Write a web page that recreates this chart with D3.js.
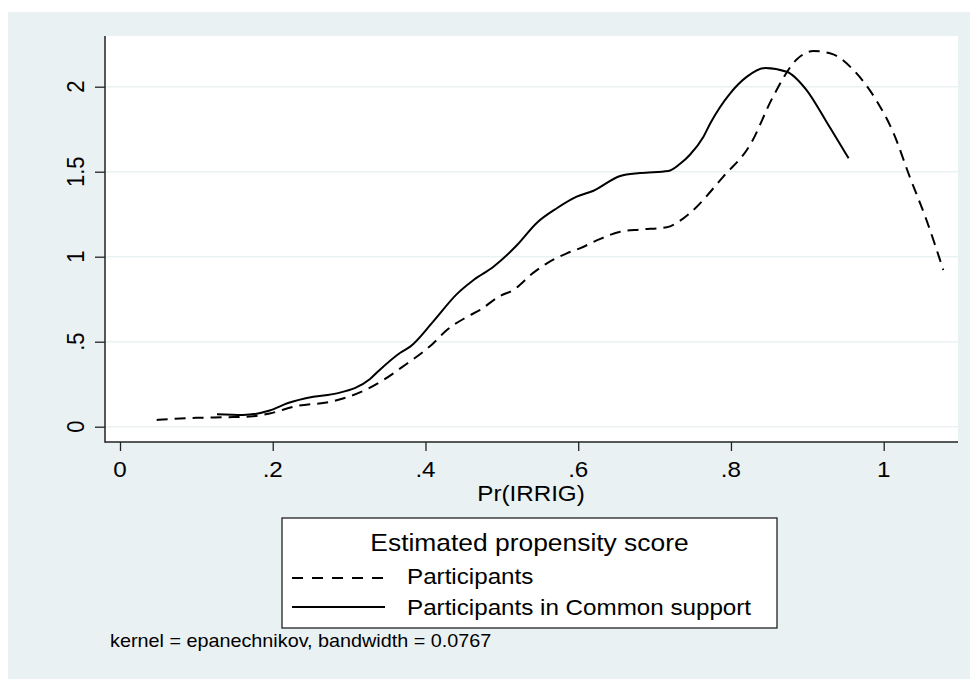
<!DOCTYPE html>
<html><head><meta charset="utf-8">
<script src="https://cdn.jsdelivr.net/npm/d3@7"></script>
<style>html,body{margin:0;padding:0;background:#fff}svg{display:block}text{font-family:"Liberation Sans",Arial,sans-serif;fill:#000}</style>
</head><body><svg id="c" width="970" height="679"></svg>
<script>
const xTicks = [0, 0.2, 0.4, 0.6, 0.8, 1];
const xTickLabels = ["0", ".2", ".4", ".6", ".8", "1"];
const yTicks = [0, 0.5, 1, 1.5, 2];
const yTickLabels = ["0", ".5", "1", "1.5", "2"];
const xTitle = "Pr(IRRIG)";
const legendTitle = "Estimated propensity score";
const seriesNames = ["Participants", "Participants in Common support"];
const note = "kernel = epanechnikov, bandwidth = 0.0767";
// Participants (dashed)
const partX = [0.048,0.10,0.14,0.17,0.196,0.23,0.279,0.323,0.345,0.367,0.41,0.428,0.454,0.471,0.498,0.515,0.541,0.559,0.585,0.602,0.629,0.655,0.681,0.716,0.733,0.746,0.79,0.825,0.855,0.886,0.908,0.934,0.96,0.991,1.013,1.034,1.056,1.078];
const partY = [0.04,0.052,0.056,0.06,0.078,0.12,0.15,0.22,0.275,0.343,0.49,0.569,0.645,0.686,0.77,0.804,0.905,0.961,1.02,1.049,1.105,1.147,1.16,1.173,1.21,1.255,1.471,1.657,1.94,2.16,2.21,2.19,2.1,1.915,1.726,1.471,1.216,0.922];
// Participants in common support (solid)
const commX = [0.127,0.161,0.196,0.22,0.253,0.284,0.327,0.34,0.367,0.38,0.41,0.441,0.463,0.489,0.519,0.546,0.572,0.598,0.62,0.655,0.681,0.718,0.733,0.746,0.764,0.773,0.799,0.821,0.845,0.873,0.899,0.925,0.954];
const commY = [0.073,0.069,0.095,0.139,0.176,0.196,0.279,0.334,0.435,0.471,0.618,0.78,0.863,0.941,1.064,1.2,1.285,1.353,1.388,1.475,1.492,1.504,1.545,1.598,1.706,1.785,1.961,2.059,2.11,2.088,1.98,1.794,1.579];

const W = 970, H = 679;
const svg = d3.select("#c");
const bg = "#eaf1f3";
const SX = 1.1; // horizontal text stretch
svg.append("rect").attr("x",8).attr("y",12).attr("width",W-8).attr("height",H-12).attr("fill",bg);

const plot = {l:105, t:36, r:958, b:442};
svg.append("rect").attr("x",plot.l).attr("y",plot.t).attr("width",plot.r-plot.l).attr("height",plot.b-plot.t).attr("fill","#fff");

const x = d3.scaleLinear().domain([0,1]).range([120,883.7]);
const y = d3.scaleLinear().domain([0,2]).range([426.7,86.7]);

// gridlines
svg.append("g").selectAll("line").data(yTicks).join("line")
  .attr("x1",plot.l).attr("x2",plot.r).attr("y1",d=>y(d)).attr("y2",d=>y(d))
  .attr("stroke","#eaf2f3").attr("stroke-width",1.5);

// axes
const yAxis = d3.axisLeft(y).tickValues(yTicks).tickSize(10).tickFormat("");
const gy = svg.append("g").attr("transform",`translate(${plot.l},0)`).call(yAxis);
gy.select(".domain").remove();
gy.selectAll(".tick line").attr("stroke","#222").attr("stroke-width",1.3);
const xAxis = d3.axisBottom(x).tickValues(xTicks).tickSize(9).tickFormat("");
const gx = svg.append("g").attr("transform",`translate(0,${plot.b})`).call(xAxis);
gx.select(".domain").remove();
gx.selectAll(".tick line").attr("stroke","#222").attr("stroke-width",1.3);
svg.append("line").attr("x1",plot.l).attr("x2",plot.l).attr("y1",plot.t).attr("y2",plot.b+0.7).attr("stroke","#222").attr("stroke-width",1.5);
svg.append("line").attr("x1",plot.l).attr("x2",plot.r).attr("y1",plot.b).attr("y2",plot.b).attr("stroke","#222").attr("stroke-width",1.5);

function stext(g, str, tx, ty, size, anchor, rot) {
  return g.append("text")
    .attr("transform",`translate(${tx},${ty}) scale(${SX},1)` + (rot?` rotate(${rot})`:""))
    .attr("text-anchor",anchor).attr("font-size",size).text(str);
}
xTicks.forEach((v,i)=>stext(svg, xTickLabels[i], x(v), 477, 22, "middle"));
yTicks.forEach((v,i)=>stext(svg, yTickLabels[i], 83.5, y(v), 22, "middle", -90));
stext(svg, xTitle, 531, 500.5, 22, "middle");

// curves
const line = d3.line().x(d=>x(d[0])).y(d=>y(d[1])).curve(d3.curveMonotoneX);
const part = partX.map((v,i)=>[v,partY[i]]);
const comm = commX.map((v,i)=>[v,commY[i]]);
svg.append("path").datum(part).attr("d",line).attr("fill","none").attr("stroke","#000").attr("stroke-width",2).attr("stroke-dasharray","11,7");
svg.append("path").datum(comm).attr("d",line).attr("fill","none").attr("stroke","#000").attr("stroke-width",2);

// legend
const lg = {l:282, t:518, r:777, b:628};
svg.append("rect").attr("x",lg.l).attr("y",lg.t).attr("width",lg.r-lg.l).attr("height",lg.b-lg.t).attr("fill","#fff").attr("stroke","#222").attr("stroke-width",1.3);
stext(svg, legendTitle, (lg.l+lg.r)/2, 551, 24, "middle");
svg.append("line").attr("x1",292).attr("x2",386).attr("y1",578).attr("y2",578).attr("stroke","#000").attr("stroke-width",2).attr("stroke-dasharray","11,9");
svg.append("line").attr("x1",292).attr("x2",385).attr("y1",607).attr("y2",607).attr("stroke","#000").attr("stroke-width",2);
stext(svg, seriesNames[0], 407, 584, 22, "start");
stext(svg, seriesNames[1], 407, 615, 22, "start");

stext(svg, note, 110, 647, 18, "start");
</script></body></html>
